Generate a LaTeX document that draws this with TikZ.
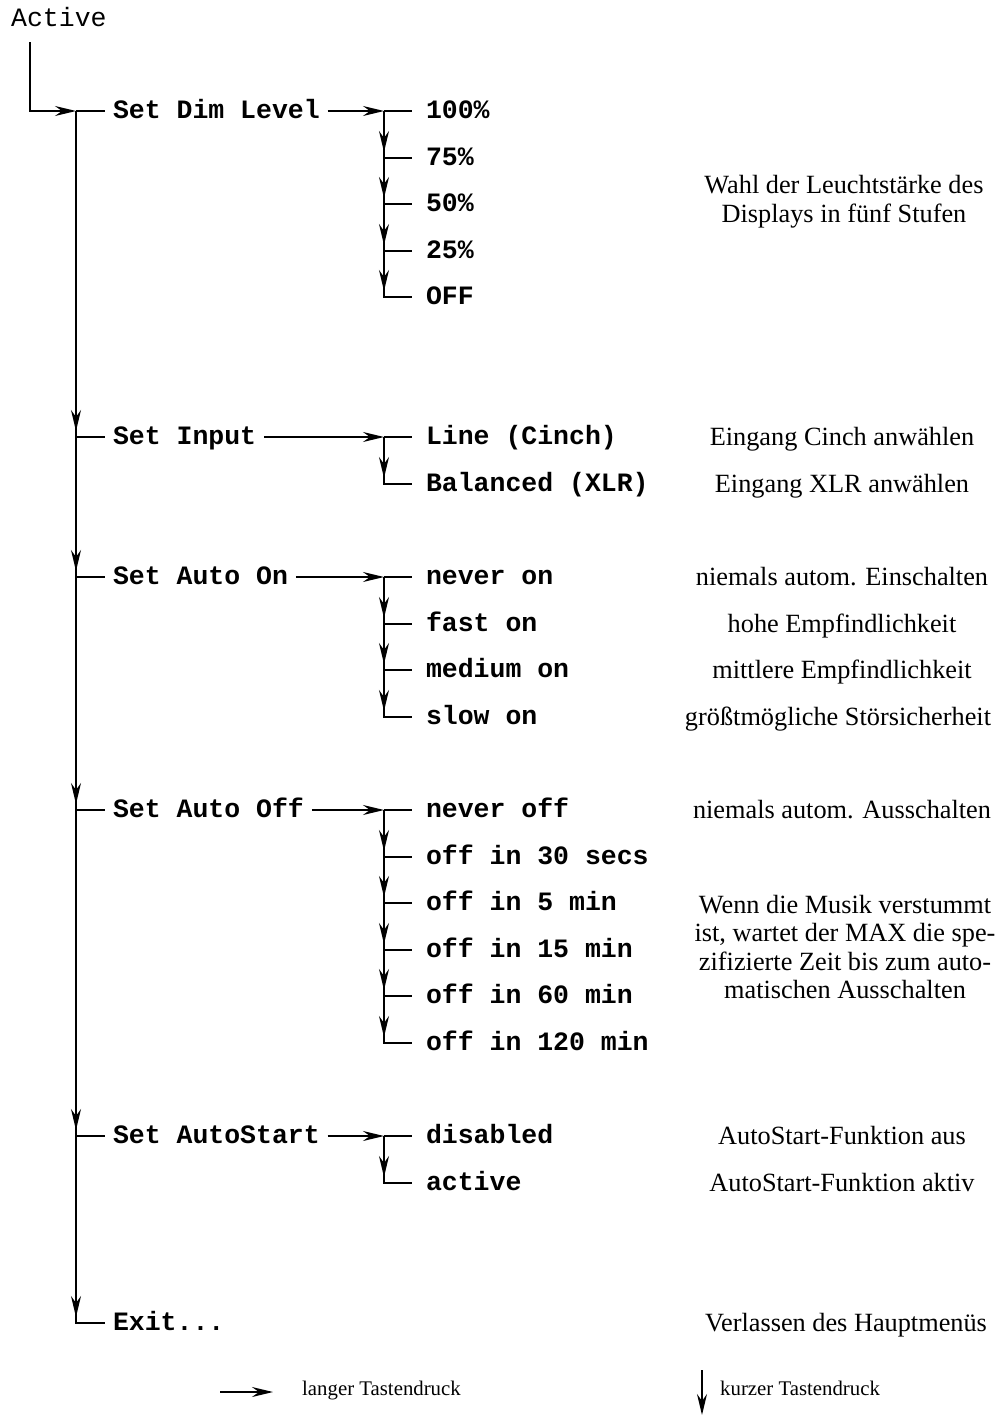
\documentclass[tikz,border=0pt]{standalone}
\usepackage{fontspec}
\usetikzlibrary{arrows.meta}
\newfontfamily\monofnt{Liberation Mono}
\newfontfamily\serifnt{Liberation Serif}
\begin{document}
\begin{tikzpicture}[x=1pt,y=-1pt,
  conn/.style={line width=1.8pt},
  arr/.style={conn,-{Stealth[length=21pt,width=10pt,inset=7pt]}},
  menu/.style={anchor=base west,inner sep=0pt,outer xsep=8pt,font=\monofnt\bfseries\fontsize{26.5}{30}\selectfont},
  opt/.style={menu,outer xsep=14pt},
  desc/.style={anchor=base,inner sep=0pt,font=\serifnt\fontsize{26.3}{30}\selectfont},
  legend/.style={anchor=base west,inner sep=0pt,font=\serifnt\fontsize{20.8}{24}\selectfont}]
\useasboundingbox (0,0) rectangle (1003,1416);

% start
\node[anchor=base west,inner sep=0pt,font=\monofnt\fontsize{26.5}{30}\selectfont] (active) at (11,27) {Active};
\coordinate (a0) at (30,42);

% main trunk junctions
\coordinate (m0) at (76,111);
\coordinate (m7) at (76,437);
\coordinate (m10) at (76,577);
\coordinate (m15) at (76,810);
\coordinate (m22) at (76,1136);
\coordinate (m26) at (76,1323);

% main menu entries (baseline 7 below the row)
\node[menu] (dim)  at (105,118)  {Set Dim Level};
\node[menu] (inp)  at (105,444)  {Set Input};
\node[menu] (aon)  at (105,584)  {Set Auto On};
\node[menu] (aoff) at (105,817)  {Set Auto Off};
\node[menu] (ast)  at (105,1143) {Set AutoStart};
\node[menu] (exit) at (105,1330) {Exit...};

% sub junctions
\coordinate (d0) at (384,111);
\coordinate (d1) at (384,158);
\coordinate (d2) at (384,204);
\coordinate (d3) at (384,251);
\coordinate (d4) at (384,297);
\coordinate (i0) at (384,437);
\coordinate (i1) at (384,484);
\coordinate (o0) at (384,577);
\coordinate (o1) at (384,624);
\coordinate (o2) at (384,670);
\coordinate (o3) at (384,717);
\coordinate (f0) at (384,810);
\coordinate (f1) at (384,857);
\coordinate (f2) at (384,903);
\coordinate (f3) at (384,950);
\coordinate (f4) at (384,996);
\coordinate (f5) at (384,1043);
\coordinate (s0) at (384,1136);
\coordinate (s1) at (384,1183);

% options
\node[opt] (pd0) at (412,118)  {100\%};
\node[opt] (pd1) at (412,165)  {75\%};
\node[opt] (pd2) at (412,211)  {50\%};
\node[opt] (pd3) at (412,258)  {25\%};
\node[opt] (pd4) at (412,304)  {OFF};
\node[opt] (pi0) at (412,444)  {Line (Cinch)};
\node[opt] (pi1) at (412,491)  {Balanced (XLR)};
\node[opt] (po0) at (412,584)  {never on};
\node[opt] (po1) at (412,631)  {fast on};
\node[opt] (po2) at (412,677)  {medium on};
\node[opt] (po3) at (412,724)  {slow on};
\node[opt] (pf0) at (412,817)  {never off};
\node[opt] (pf1) at (412,864)  {off in 30 secs};
\node[opt] (pf2) at (412,910)  {off in 5 min};
\node[opt] (pf3) at (412,957)  {off in 15 min};
\node[opt] (pf4) at (412,1003) {off in 60 min};
\node[opt] (pf5) at (412,1050) {off in 120 min};
\node[opt] (ps0) at (412,1143) {disabled};
\node[opt] (ps1) at (412,1190) {active};

% connectors: main
\draw[arr] (a0) |- (m0);
\draw[conn] (m0) |- (m26 -| exit.west);
\foreach \a/\b in {m0/m7,m7/m10,m10/m15,m15/m22,m22/m26}
  \draw[arr,shorten >=6pt] (\a) -- (\b);
\foreach \c/\n in {m0/dim,m7/inp,m10/aon,m15/aoff,m22/ast}
  \draw[conn] (\c) -- (\c -| \n.west);

% long presses
\draw[arr] (d0 -| dim.east) -- (d0);
\draw[arr] (i0 -| inp.east) -- (i0);
\draw[arr] (o0 -| aon.east) -- (o0);
\draw[arr] (f0 -| aoff.east) -- (f0);
\draw[arr] (s0 -| ast.east) -- (s0);

% sub trunks
\draw[conn] (d0) |- (d4 -| pd4.west);
\draw[conn] (i0) |- (i1 -| pi1.west);
\draw[conn] (o0) |- (o3 -| po3.west);
\draw[conn] (f0) |- (f5 -| pf5.west);
\draw[conn] (s0) |- (s1 -| ps1.west);
\foreach \a/\b in {d0/d1,d1/d2,d2/d3,d3/d4,i0/i1,o0/o1,o1/o2,o2/o3,f0/f1,f1/f2,f2/f3,f3/f4,f4/f5,s0/s1}
  \draw[arr,shorten >=6pt] (\a) -- (\b);
\foreach \c/\n in {d0/pd0,d1/pd1,d2/pd2,d3/pd3,i0/pi0,o0/po0,o1/po1,o2/po2,f0/pf0,f1/pf1,f2/pf2,f3/pf3,f4/pf4,s0/ps0}
  \draw[conn] (\c) -- (\c -| \n.west);

% descriptions
\node[desc] (t1a) at (844,193) {Wahl der Leuchtstärke des};
\node[desc] (t1b) at (844,222) {Displays in fünf Stufen};
\node[desc] (t2a) at (842,445.5) {Eingang Cinch anwählen};
\node[desc] (t2b) at (842,492.5) {Eingang XLR anwählen};
\node[desc] (t3a) at (842,585.5) {niemals autom. Einschalten};
\node[desc] (t3b) at (842,632.5) {hohe Empfindlichkeit};
\node[desc] (t3c) at (842,678.5) {mittlere Empfindlichkeit};
\node[desc] (t3d) at (838,725.5) {größtmögliche Störsicherheit};
\node[desc] (t4a) at (842,818.5) {niemals autom. Ausschalten};
\node[desc] (t4b) at (845,913)   {Wenn die Musik verstummt};
\node[desc] (t4c) at (845,941.5) {ist, wartet der MAX die spe-};
\node[desc] (t4d) at (845,970)   {zifizierte Zeit bis zum auto-};
\node[desc] (t4e) at (845,998.5) {matischen Ausschalten};
\node[desc] (t5a) at (842,1144.5) {AutoStart-Funktion aus};
\node[desc] (t5b) at (842,1191.5) {AutoStart-Funktion aktiv};
\node[desc] (t6)  at (846,1331.5) {Verlassen des Hauptmenüs};

% legend
\coordinate (la) at (220,1392);
\coordinate (lb) at (273,1392);
\draw[arr] (la) -- (lb);
\node[legend] (ltxt) at (302,1395) {langer Tastendruck};
\coordinate (ka) at (702,1370);
\coordinate (kb) at (702,1415);
\draw[arr] (ka) -- (kb);
\node[legend] (ktxt) at (720,1395) {kurzer Tastendruck};
\end{tikzpicture}
\end{document}
